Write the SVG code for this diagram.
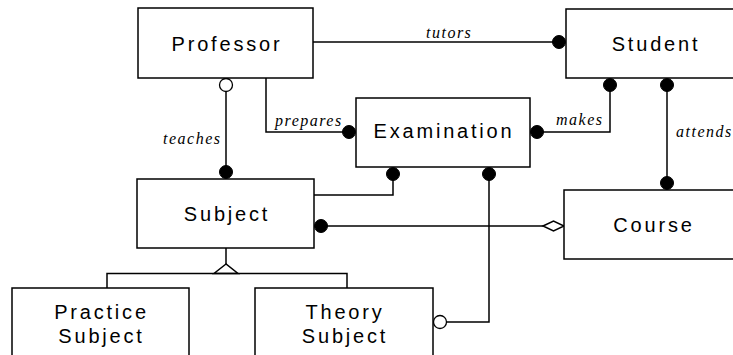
<svg xmlns="http://www.w3.org/2000/svg" width="733" height="355" viewBox="0 0 733 355">
  <style>
    .box { fill: #fff; stroke: #000; stroke-width: 1.5; }
    .name { font-family: "Liberation Sans", Arial, sans-serif; font-size: 20px; letter-spacing: 2.8px; text-anchor: middle; fill: #000; }
    .rel { font-family: "Liberation Serif", "Times New Roman", serif; font-style: italic; font-size: 16px; letter-spacing: 1.5px; fill: #000; }
    .line { fill: none; stroke: #000; stroke-width: 1.5; }
    .dot { fill: #000; stroke: #000; stroke-width: 1; }
    .ring { fill: #fff; stroke: #000; stroke-width: 1.3; }
  </style>

  <!-- relationships -->
  <g id="connectors">
    <polyline class="line" points="313,42 559,42"/>
    <polyline class="line" points="266,78 266,132 349,132"/>
    <polyline class="line" points="226,92 226,172"/>
    <polyline class="line" points="537,132 610,132 610,85"/>
    <polyline class="line" points="667,85 667,183"/>
    <polyline class="line" points="393,174 393,195 314,195"/>
    <polyline class="line" points="321,226 543,226"/>
    <polyline class="line" points="489,174 489,322 447,322"/>
    <!-- generalisation -->
    <polyline class="line" points="226,248 226,264"/>
    <polygon class="box" points="226,264 214,273.5 238,273.5"/>
    <polyline class="line" points="107,288 107,273.5 347,273.5 347,288"/>
    <!-- aggregation diamond -->
    <polygon class="box" stroke-width="1.3" points="543,226 553.5,221 564,226 553.5,231"/>

    <circle class="dot" cx="559" cy="42" r="6.5"/>
    <circle class="dot" cx="349" cy="132" r="6.5"/>
    <circle class="ring" cx="226" cy="85" r="6.5"/>
    <circle class="dot" cx="226" cy="172" r="6.5"/>
    <circle class="dot" cx="537" cy="132" r="6.5"/>
    <circle class="dot" cx="610" cy="85" r="6.5"/>
    <circle class="dot" cx="667" cy="85" r="6.5"/>
    <circle class="dot" cx="667" cy="183" r="6.5"/>
    <circle class="dot" cx="393" cy="174" r="6.5"/>
    <circle class="dot" cx="489" cy="174" r="6.5"/>
    <circle class="dot" cx="321" cy="226" r="6.5"/>
    <circle class="ring" cx="440" cy="322" r="6.5"/>

    <text class="rel" x="426" y="38">tutors</text>
    <text class="rel" x="275" y="126">prepares</text>
    <text class="rel" x="163" y="144">teaches</text>
    <text class="rel" x="556" y="125">makes</text>
    <text class="rel" x="676" y="137">attends</text>
  </g>

  <g id="professor">
    <rect class="box" x="138" y="8" width="175" height="70"/>
    <text class="name" x="227" y="51">Professor</text>
  </g>
  <g id="student">
    <rect class="box" x="566" y="9" width="176" height="69"/>
    <text class="name" x="656" y="51">Student</text>
  </g>
  <g id="examination">
    <rect class="box" x="356" y="98" width="174" height="69"/>
    <text class="name" x="444" y="138">Examination</text>
  </g>
  <g id="subject">
    <rect class="box" x="137" y="179" width="177" height="69"/>
    <text class="name" x="227" y="221">Subject</text>
  </g>
  <g id="course">
    <rect class="box" x="564" y="190" width="178" height="69"/>
    <text class="name" x="654" y="232">Course</text>
  </g>
  <g id="practice-subject">
    <rect class="box" x="12" y="288" width="177" height="80"/>
    <text class="name" x="101.5" y="319">Practice</text>
    <text class="name" x="101.5" y="343">Subject</text>
  </g>
  <g id="theory-subject">
    <rect class="box" x="255" y="288" width="178" height="80"/>
    <text class="name" x="345" y="319">Theory</text>
    <text class="name" x="345" y="343">Subject</text>
  </g>
</svg>
